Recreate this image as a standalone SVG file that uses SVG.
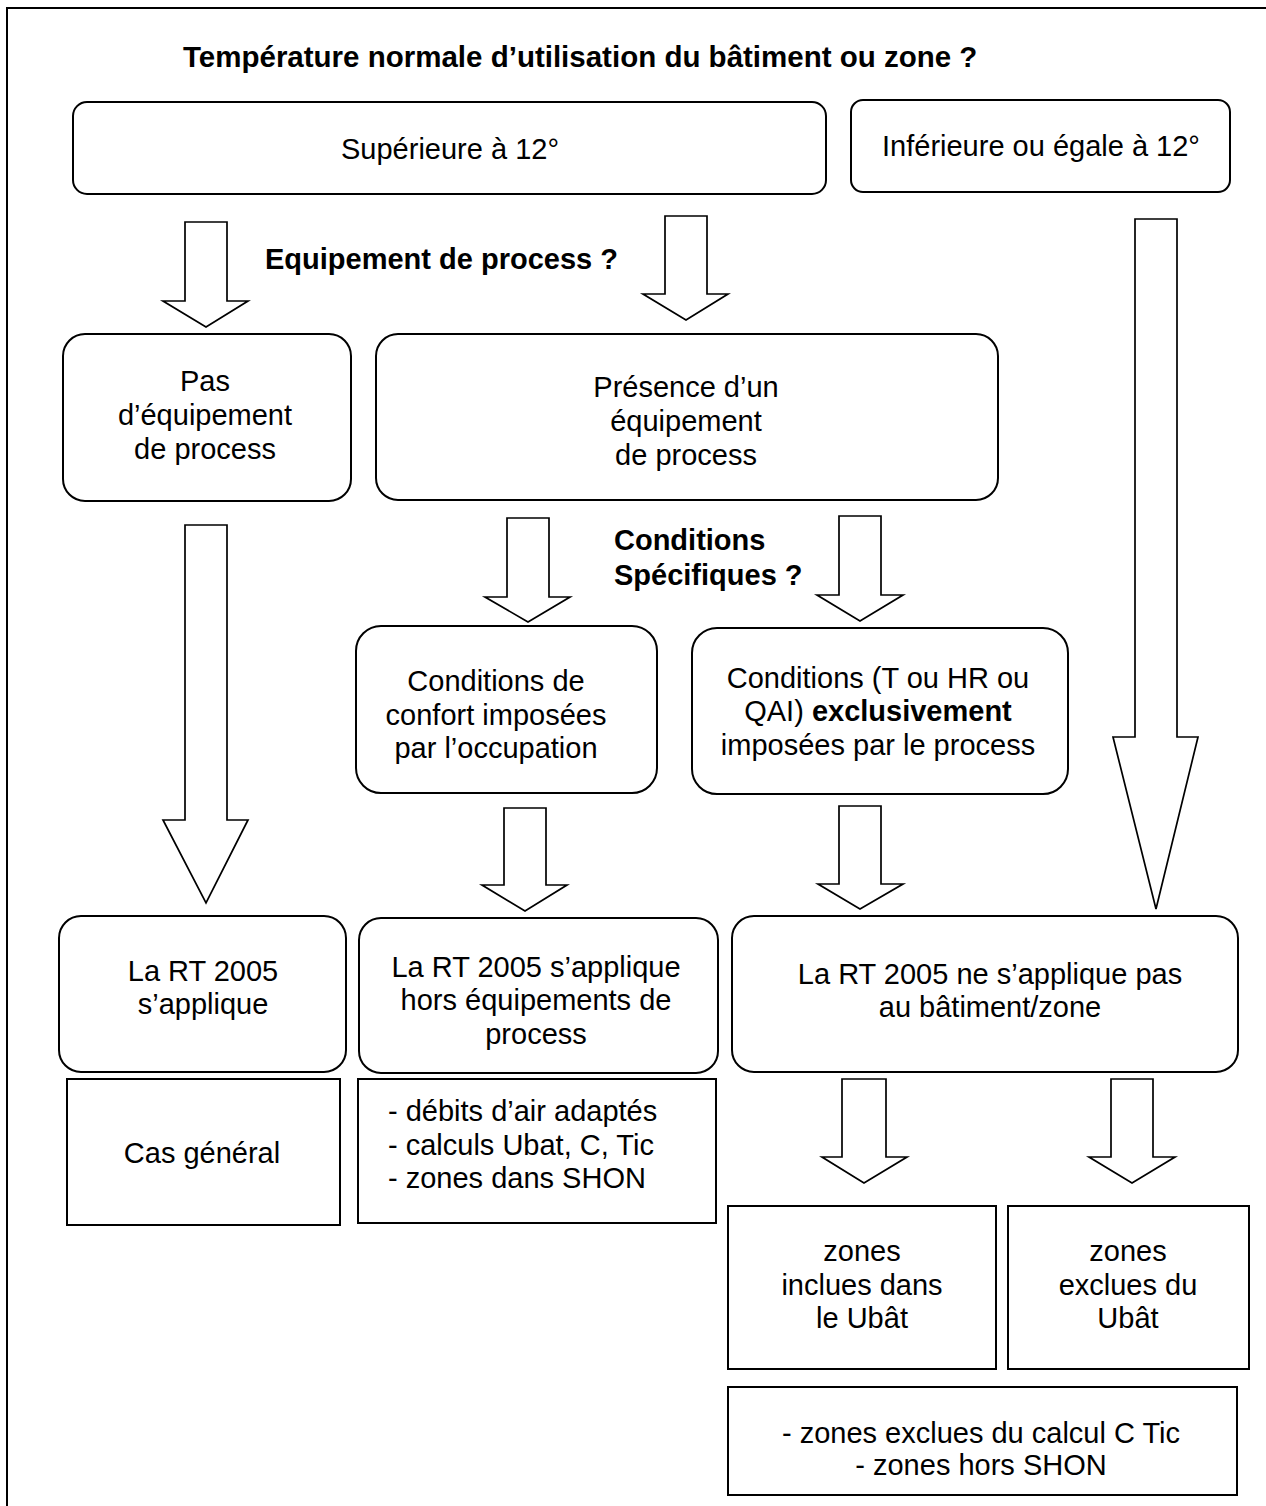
<svg xmlns="http://www.w3.org/2000/svg" width="1266" height="1506" viewBox="0 0 1266 1506">
<style>
  .box { fill: #fff; stroke: #000; stroke-width: 2; }
  .arrow { fill: #fff; stroke: #000; stroke-width: 1.7; stroke-linejoin: miter; }
  .t { font-family: "Liberation Sans", Arial, Helvetica, sans-serif; font-size: 29px; fill: #000; }
  .c { text-anchor: middle; }
  .b { font-weight: bold; }
  .title { font-size: 29.5px; }
</style>
<rect width="1266" height="1506" fill="#fff"/>
<rect x="7" y="8" width="1280" height="1520" fill="none" stroke="#000" stroke-width="2"/>

<g id="title">
  <text class="t b title" x="183" y="67">Température normale d’utilisation du bâtiment ou zone ?</text>
</g>
<g id="q-equipement">
  <text class="t b" x="265" y="269">Equipement de process ?</text>
</g>
<g id="q-conditions">
  <text class="t b" x="614" y="550">Conditions</text>
  <text class="t b" x="614" y="585">Spécifiques ?</text>
</g>

<g id="n-superieure">
  <rect class="box" x="73" y="102" width="753" height="92" rx="14"/>
  <text class="t c" x="450" y="159">Supérieure à 12°</text>
</g>
<g id="n-inferieure">
  <rect class="box" x="851" y="100" width="379" height="92" rx="12"/>
  <text class="t c" x="1041" y="156">Inférieure ou égale à 12°</text>
</g>
<g id="n-pas-equipement">
  <rect class="box" x="63" y="334" width="288" height="167" rx="22"/>
  <text class="t c" x="205" y="391">Pas</text>
  <text class="t c" x="205" y="425">d’équipement</text>
  <text class="t c" x="205" y="459">de process</text>
</g>
<g id="n-presence">
  <rect class="box" x="376" y="334" width="622" height="166" rx="22"/>
  <text class="t c" x="686" y="397">Présence d’un</text>
  <text class="t c" x="686" y="431">équipement</text>
  <text class="t c" x="686" y="465">de process</text>
</g>
<g id="n-confort">
  <rect class="box" x="356" y="626" width="301" height="167" rx="25"/>
  <text class="t c" x="496" y="691">Conditions de</text>
  <text class="t c" x="496" y="725">confort imposées</text>
  <text class="t c" x="496" y="758">par l’occupation</text>
</g>
<g id="n-process-conditions">
  <rect class="box" x="692" y="628" width="376" height="166" rx="25"/>
  <text class="t c" x="878" y="688">Conditions (T ou HR ou</text>
  <text class="t c" x="878" y="721">QAI) <tspan class="b">exclusivement</tspan></text>
  <text class="t c" x="878" y="755">imposées par le process</text>
</g>
<g id="n-rt-applique">
  <rect class="box" x="59" y="916" width="287" height="156" rx="22"/>
  <text class="t c" x="203" y="981">La RT 2005</text>
  <text class="t c" x="203" y="1014">s’applique</text>
</g>
<g id="n-rt-hors">
  <rect class="box" x="359" y="918" width="359" height="155" rx="22"/>
  <text class="t c" x="536" y="977">La RT 2005 s’applique</text>
  <text class="t c" x="536" y="1010">hors équipements de</text>
  <text class="t c" x="536" y="1044">process</text>
</g>
<g id="n-rt-pas">
  <rect class="box" x="732" y="916" width="506" height="156" rx="22"/>
  <text class="t c" x="990" y="984">La RT 2005 ne s’applique pas</text>
  <text class="t c" x="990" y="1017">au bâtiment/zone</text>
</g>
<g id="n-cas-general">
  <rect class="box" x="67" y="1079" width="273" height="146"/>
  <text class="t c" x="202" y="1163">Cas général</text>
</g>
<g id="n-debits">
  <rect class="box" x="358" y="1079" width="358" height="144"/>
  <text class="t" x="388" y="1121">- débits d’air adaptés</text>
  <text class="t" x="388" y="1155">- calculs Ubat, C, Tic</text>
  <text class="t" x="388" y="1188">- zones dans SHON</text>
</g>
<g id="n-zones-inclues">
  <rect class="box" x="728" y="1206" width="268" height="163"/>
  <text class="t c" x="862" y="1261">zones</text>
  <text class="t c" x="862" y="1295">inclues dans</text>
  <text class="t c" x="862" y="1328">le Ubât</text>
</g>
<g id="n-zones-exclues">
  <rect class="box" x="1008" y="1206" width="241" height="163"/>
  <text class="t c" x="1128" y="1261">zones</text>
  <text class="t c" x="1128" y="1295">exclues du</text>
  <text class="t c" x="1128" y="1328">Ubât</text>
</g>
<g id="n-zones-hors">
  <rect class="box" x="728" y="1387" width="509" height="108"/>
  <text class="t c" x="981" y="1443">- zones exclues du calcul C Tic</text>
  <text class="t c" x="981" y="1475">- zones hors SHON</text>
</g>

<g id="connectors">
  <polygon class="arrow" points="185,222 227,222 227,301 248,301 206,327 163,301 185,301"/>
  <polygon class="arrow" points="665,216 707,216 707,294 728,294 686,320 643,294 665,294"/>
  <polygon class="arrow" points="1135,219 1177,219 1177,737 1198,737 1156,909 1113,737 1135,737"/>
  <polygon class="arrow" points="185,525 227,525 227,820 248,820 206,903 163,820 185,820"/>
  <polygon class="arrow" points="507,518 549,518 549,597 570,597 528,622 485,597 507,597"/>
  <polygon class="arrow" points="839,516 881,516 881,595 903,595 860,621 817,595 839,595"/>
  <polygon class="arrow" points="504,808 546,808 546,885 567,885 525,911 482,885 504,885"/>
  <polygon class="arrow" points="839,806 881,806 881,884 903,884 860,909 818,884 839,884"/>
  <polygon class="arrow" points="842,1079 886,1079 886,1157 907,1157 864,1183 822,1157 842,1157"/>
  <polygon class="arrow" points="1111,1079 1153,1079 1153,1157 1175,1157 1132,1183 1089,1157 1111,1157"/>
</g>
</svg>
